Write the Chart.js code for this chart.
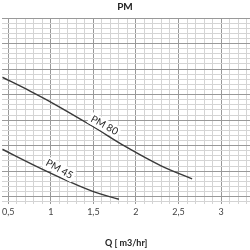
<!DOCTYPE html>
<html>
<head>
<meta charset="utf-8">
<script src="https://cdn.jsdelivr.net/npm/chart.js@4/dist/chart.umd.min.js"></script>
<style>
html,body{margin:0;padding:0;background:#fff;}
#wrap{width:250px;height:250px;position:relative;}
</style>
</head>
<body>
<div id="wrap"><canvas id="c" width="250" height="250"></canvas></div>
<script>
const titleText = 'PM';
const xAxisTitle = 'Q [ m3/hr]';
const xTickValues = [0.5, 1, 1.5, 2, 2.5, 3];
const xTickLabels = ['0,5', '1', '1,5', '2', '2,5', '3'];
const pm80X = [0.43, 0.72, 1.01, 1.48, 1.88, 2.29, 2.66];
const pm80Y = [4.68, 4.20, 3.69, 2.78, 1.96, 1.22, 0.70];
const pm45X = [0.43, 0.80, 1.21, 1.50, 1.80];
const pm45Y = [1.86, 1.24, 0.60, 0.20, -0.10];
const seriesNames = ['PM 80', 'PM 45'];
const labelAnchorX = [1.63, 1.10];
const labelAnchorY = [2.80, 1.08];

const toPts = (xs, ys) => xs.map((x, i) => ({x: x, y: ys[i]}));

const curveLabels = {
  id: 'curveLabels',
  afterDatasetsDraw(chart) {
    const ctx = chart.ctx;
    const xs = chart.scales.x, ys = chart.scales.y;
    ctx.save();
    seriesNames.forEach((name, i) => {
      const px = xs.getPixelForValue(labelAnchorX[i]);
      const py = ys.getPixelForValue(labelAnchorY[i]);
      ctx.save();
      ctx.translate(px, py);
      ctx.rotate(29 * Math.PI / 180);
      ctx.font = '10px Lato';
      const w = ctx.measureText(name).width;
      ctx.fillStyle = '#fff';
      ctx.fillRect(-w / 2 - 2, -6, w + 4, 12);
      ctx.fillStyle = '#222';
      ctx.textAlign = 'center';
      ctx.textBaseline = 'middle';
      ctx.fillText(name, 0, 0);
      ctx.restore();
    });
    ctx.restore();
  }
};

const isMajorX = v => Math.abs(Math.round(v * 10) % 5) === 0;
const isMajorY = v => Math.abs(v - Math.round(v)) < 1e-6;

new Chart(document.getElementById('c'), {
  type: 'line',
  data: {
    datasets: [
      {label: seriesNames[0], data: toPts(pm80X, pm80Y), borderColor: '#3a3a3a', borderWidth: 1.4, pointRadius: 0, tension: 0.4, fill: false},
      {label: seriesNames[1], data: toPts(pm45X, pm45Y), borderColor: '#3a3a3a', borderWidth: 1.4, pointRadius: 0, tension: 0.4, fill: false}
    ]
  },
  options: {
    responsive: false,
    animation: false,
    devicePixelRatio: 1,
    layout: {padding: {left: 0, right: 0, top: 0, bottom: 2}},
    plugins: {
      legend: {display: false},
      tooltip: {enabled: false},
      title: {display: true, text: titleText, color: '#222', font: {family: 'Lato', size: 10, weight: 'bold'}, padding: {top: 1, bottom: 5}}
    },
    scales: {
      x: {
        type: 'linear', min: 0.43, max: 3.34,
        border: {display: false},
        grid: {
          color: c => isMajorX(c.tick.value) ? '#999' : '#d4d4d4',
          lineWidth: 1, drawTicks: false
        },
        ticks: {
          stepSize: 0.1, autoSkip: false, maxRotation: 0, includeBounds: false,
          color: '#444', font: {family: 'Lato', size: 9}, padding: 2,
          callback: v => {
            const i = xTickValues.findIndex(t => Math.abs(t - v) < 1e-6);
            return i >= 0 ? xTickLabels[i] : '';
          }
        },
        title: {display: true, text: xAxisTitle, color: '#222', font: {family: 'Lato', size: 9, weight: 'bold'}, padding: {top: 18, bottom: 0}}
      },
      y: {
        type: 'linear', min: -0.3, max: 7,
        border: {display: false},
        grid: {
          color: c => isMajorY(c.tick.value) ? '#999' : '#d4d4d4',
          lineWidth: 1, drawTicks: false
        },
        ticks: {display: false, stepSize: 0.2, includeBounds: false, autoSkip: false}
      }
    }
  },
  plugins: [curveLabels]
});
</script>
</body>
</html>
